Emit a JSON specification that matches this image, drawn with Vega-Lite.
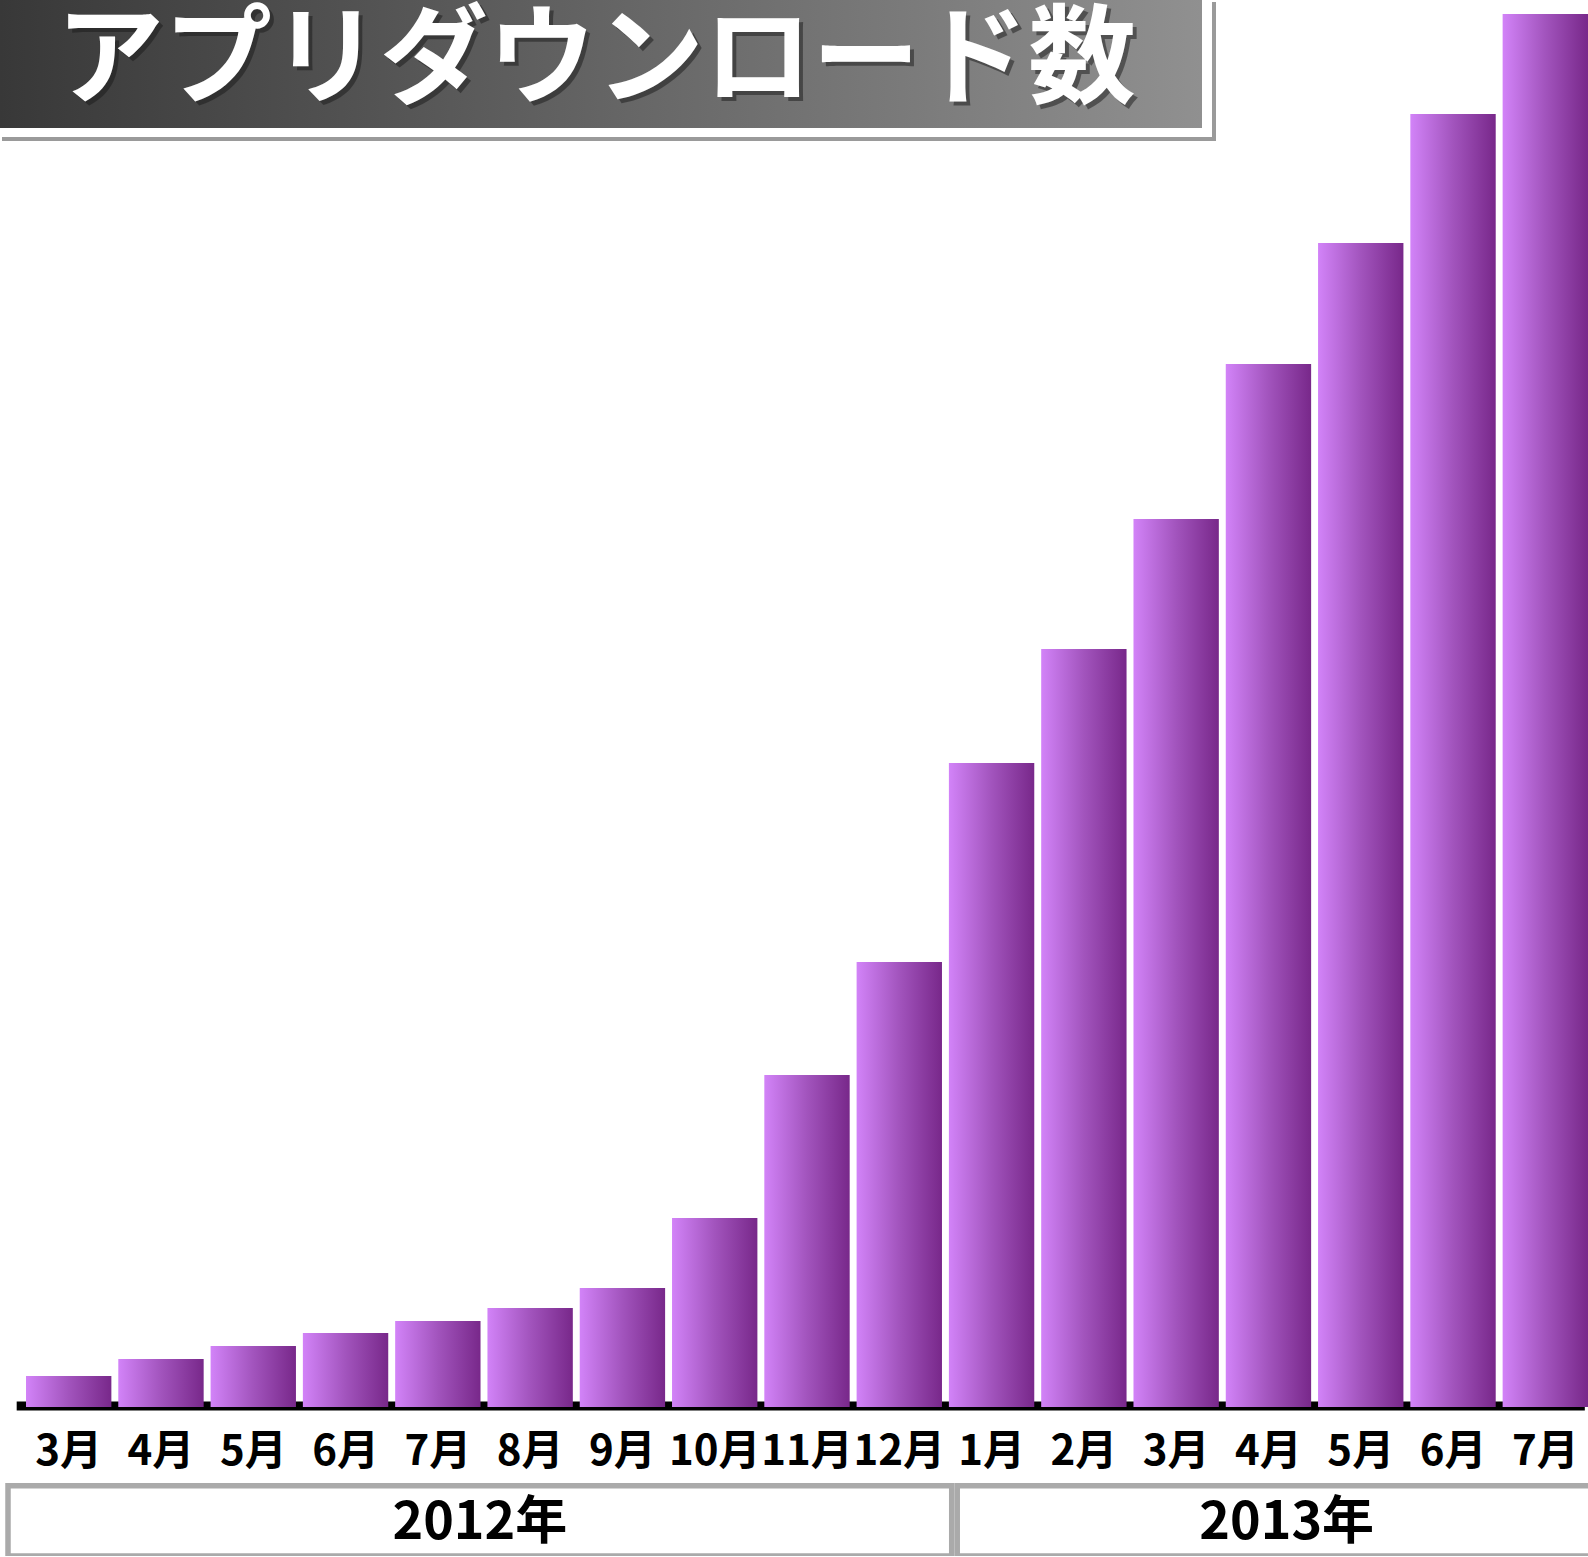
{
  "$schema": "https://vega.github.io/schema/vega-lite/v6.json",
  "padding": 0,
  "background": "white",
  "config": {"view": {"stroke": null}, "font": "Noto Sans CJK JP"},
  "datasets": {
    "months": [
      {"key": "2012年3月", "year": "2012年", "n": 1, "value": 31},
      {"key": "2012年4月", "year": "2012年", "n": 2, "value": 48},
      {"key": "2012年5月", "year": "2012年", "n": 3, "value": 61},
      {"key": "2012年6月", "year": "2012年", "n": 4, "value": 74},
      {"key": "2012年7月", "year": "2012年", "n": 5, "value": 86},
      {"key": "2012年8月", "year": "2012年", "n": 6, "value": 99},
      {"key": "2012年9月", "year": "2012年", "n": 7, "value": 119},
      {"key": "2012年10月", "year": "2012年", "n": 8, "value": 189},
      {"key": "2012年11月", "year": "2012年", "n": 9, "value": 332},
      {"key": "2012年12月", "year": "2012年", "n": 10, "value": 445},
      {"key": "2013年1月", "year": "2013年", "n": 11, "value": 644},
      {"key": "2013年2月", "year": "2013年", "n": 12, "value": 758},
      {"key": "2013年3月", "year": "2013年", "n": 13, "value": 888},
      {"key": "2013年4月", "year": "2013年", "n": 14, "value": 1043},
      {"key": "2013年5月", "year": "2013年", "n": 15, "value": 1164},
      {"key": "2013年6月", "year": "2013年", "n": 16, "value": 1293},
      {"key": "2013年7月", "year": "2013年", "n": 17, "value": 1393}
    ]
  },
  "spacing": 11,
  "vconcat": [
    {
      "width": 1588,
      "height": 1407,
      "resolve": {"scale": {"x": "independent", "y": "independent"}},
      "layer": [
        {
          "data": {"values": [{"t": "アプリダウンロード数"}]},
          "mark": {"type": "rect",
            "fill": {"gradient": "linear", "x1": 0, "y1": 0, "x2": 1, "y2": 0,
              "stops": [{"offset": 0, "color": "#383838"}, {"offset": 1, "color": "#909090"}]}},
          "encoding": {
            "x": {"datum": 0, "type": "quantitative", "scale": {"domain": [0, 1.32113], "nice": false, "zero": false}, "axis": null},
            "x2": {"datum": 1},
            "y": {"datum": 0, "type": "quantitative", "scale": {"domain": [0, 10.992], "nice": false, "zero": false, "reverse": true}, "axis": null},
            "y2": {"datum": 1}
          }
        },
        {
          "data": {"values": [{"t": "アプリダウンロード数"}]},
          "mark": {"type": "rule", "stroke": "#9a9a9a", "strokeWidth": 4, "xOffset": 12, "yOffset": 2, "y2Offset": 13},
          "encoding": {
            "x": {"datum": 1, "type": "quantitative", "scale": {"domain": [0, 1.32113], "nice": false, "zero": false}, "axis": null},
            "y": {"datum": 0, "type": "quantitative", "scale": {"domain": [0, 10.992], "nice": false, "zero": false, "reverse": true}, "axis": null},
            "y2": {"datum": 1}
          }
        },
        {
          "data": {"values": [{"t": "アプリダウンロード数"}]},
          "mark": {"type": "rule", "stroke": "#9a9a9a", "strokeWidth": 4, "yOffset": 11, "xOffset": 2, "x2Offset": 14},
          "encoding": {
            "x": {"datum": 0, "type": "quantitative", "scale": {"domain": [0, 1.32113], "nice": false, "zero": false}, "axis": null},
            "x2": {"datum": 1},
            "y": {"datum": 1, "type": "quantitative", "scale": {"domain": [0, 10.992], "nice": false, "zero": false, "reverse": true}, "axis": null}
          }
        },
        {
          "data": {"values": [{"t": "アプリダウンロード数"}]},
          "mark": {"type": "text", "font": "Noto Sans CJK JP", "fontSize": 108, "fontWeight": "bold", "color": "#1a1a1a", "opacity": 0.5, "align": "center", "baseline": "middle", "dx": -1, "dy": 3},
          "encoding": {
            "x": {"datum": 0.5, "type": "quantitative", "scale": {"domain": [0, 1.32113], "nice": false, "zero": false}, "axis": null},
            "y": {"datum": 0.5, "type": "quantitative", "scale": {"domain": [0, 10.992], "nice": false, "zero": false, "reverse": true}, "axis": null},
            "text": {"field": "t", "type": "nominal"}
          }
        },
        {
          "data": {"values": [{"t": "アプリダウンロード数"}]},
          "mark": {"type": "text", "font": "Noto Sans CJK JP", "fontSize": 108, "fontWeight": "bold", "color": "#ffffff", "align": "center", "baseline": "middle", "dx": -5, "dy": -1},
          "encoding": {
            "x": {"datum": 0.5, "type": "quantitative", "scale": {"domain": [0, 1.32113], "nice": false, "zero": false}, "axis": null},
            "y": {"datum": 0.5, "type": "quantitative", "scale": {"domain": [0, 10.992], "nice": false, "zero": false, "reverse": true}, "axis": null},
            "text": {"field": "t", "type": "nominal"}
          }
        },
        {
          "layer": [
            {
              "data": {"values": [{"t": "baseline"}]},
              "mark": {"type": "rule", "stroke": "#000000", "strokeWidth": 9, "xOffset": -52, "x2Offset": 39.5, "yOffset": -1},
              "encoding": {
                "x": {"datum": "2012年3月", "type": "nominal",
                  "scale": {"domain": ["2012年3月", "2012年4月", "2012年5月", "2012年6月", "2012年7月", "2012年8月", "2012年9月", "2012年10月", "2012年11月", "2012年12月", "2013年1月", "2013年2月", "2013年3月", "2013年4月", "2013年5月", "2013年6月", "2013年7月"], "paddingInner": 0.075, "paddingOuter": 0.1409, "align": 1},
                  "axis": {"title": null, "domain": false, "ticks": false, "labelAngle": 0,
                    "labelExpr": "split(datum.label, '年')[1]", "labelFont": "Noto Sans CJK JP", "labelFontSize": 42, "labelFontWeight": "bold", "labelColor": "#000000", "labelPadding": 24, "labelBaseline": "top", "grid": false}},
                "x2": {"datum": "2013年7月"},
                "y": {"datum": 0, "type": "quantitative", "scale": {"domain": [0, 1407], "nice": false, "zero": true}, "axis": null}
              }
            },
            {
              "data": {"name": "months"},
              "mark": {"type": "bar",
                "fill": {"gradient": "linear", "x1": 0, "y1": 0, "x2": 1, "y2": 0,
                  "stops": [{"offset": 0, "color": "#d283f8"}, {"offset": 0.5, "color": "#a254bd"}, {"offset": 1, "color": "#78288a"}]}},
              "encoding": {
                "x": {"field": "key", "type": "nominal",
                  "scale": {"domain": ["2012年3月", "2012年4月", "2012年5月", "2012年6月", "2012年7月", "2012年8月", "2012年9月", "2012年10月", "2012年11月", "2012年12月", "2013年1月", "2013年2月", "2013年3月", "2013年4月", "2013年5月", "2013年6月", "2013年7月"], "paddingInner": 0.075, "paddingOuter": 0.1409, "align": 1},
                  "axis": {"title": null, "domain": false, "ticks": false, "labelAngle": 0,
                    "labelExpr": "split(datum.label, '年')[1]", "labelFont": "Noto Sans CJK JP", "labelFontSize": 42, "labelFontWeight": "bold", "labelColor": "#000000", "labelPadding": 24, "labelBaseline": "top", "grid": false}},
                "y": {"field": "value", "type": "quantitative",
                  "scale": {"domain": [0, 1407], "nice": false, "zero": true},
                  "axis": null}
              }
            }
          ]
        }
      ]
    },
    {
      "width": 1588,
      "height": 73,
      "data": {"name": "months"},
      "layer": [
        {
          "mark": {"type": "rect", "fill": "#ffffff", "stroke": "#aaaaaa", "strokeWidth": 5.5, "xOffset": -44.71, "x2Offset": 44.71, "yOffset": 2.75, "clip": true},
          "encoding": {
            "x": {"aggregate": "min", "field": "n", "type": "quantitative",
              "scale": {"domain": [0.4447, 17.174], "nice": false, "zero": false}, "axis": null},
            "x2": {"aggregate": "max", "field": "n"},
            "detail": {"field": "year", "type": "nominal"}
          }
        },
        {
          "mark": {"type": "text", "font": "Noto Sans CJK JP", "fontSize": 52, "fontWeight": "bold", "color": "#000000", "align": "center", "baseline": "middle", "dy": 3},
          "encoding": {
            "x": {"aggregate": "mean", "field": "n", "type": "quantitative"},
            "text": {"field": "year", "type": "nominal"}
          }
        }
      ]
    }
  ]
}
